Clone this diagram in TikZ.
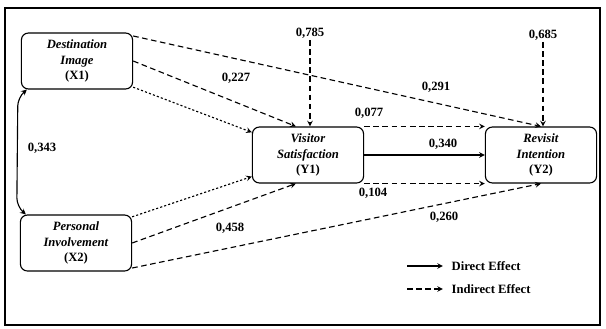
\documentclass[tikz,border=0pt]{standalone}
\usepackage{fontspec}
\setmainfont{Liberation Serif}
\usetikzlibrary{arrows, positioning, calc}

\begin{document}
\begin{tikzpicture}[
    x=0.025cm, y=-0.025cm,
    var/.style={rectangle, rounded corners=5pt, draw, thick, 
                minimum width=2.78cm, minimum height=1.4cm, align=center, font=\small\bfseries, inner sep=1pt},
    val/.style={font=\small\bfseries, inner sep=1pt},
    arrow/.style={->, thick, >=stealth},
    effect/.style={->, thick, >=stealth, dash pattern=on 4pt off 2.5pt},
    via/.style={->, thick, >=stealth, dash pattern=on 1.5pt off 1.5pt}
]
\useasboundingbox (0,0) rectangle (606,329);
\draw[line width=1pt] (5,8) rectangle (600,325);

% Variables
\node[var] (x1) at (77,61) {\textit{Destination}\\\textit{Image}\\(X1)};
\node[var] (x2) at (76,243) {\textit{Personal}\\\textit{Involvement}\\(X2)};
\node[var] (y1) at (308,155) {\textit{Visitor}\\\textit{Satisfaction}\\(Y1)};
\node[var] (y2) at (541,155) {\textit{Revisit}\\\textit{Intention}\\(Y2)};

% R square
\node[val] (r1) at (310,33) {0,785};
\node[val] (r2) at (543,35) {0,685};

% Path values
\node[val] (v343) at (42,148) {0,343};
\node[val] (v227) at (236,78) {0,227};
\node[val] (v291) at (436,87) {0,291};
\node[val] (v077) at (369,113) {0,077};
\node[val] (v340) at (443,144) {0,340};
\node[val] (v104) at (373,193) {0,104};
\node[val] (v458) at (230,228) {0,458};
\node[val] (v260) at (444,217) {0,260};

% Correlation
\draw[<->, thick, >=stealth, rounded corners=6pt] ($(x1.south west)+(6,0)$) -- ($(x1.south west)+(-3,8)$)
    -- ($(x2.north west)+(-3,-8)$) -- ($(x2.north west)+(6,0)$);

% Direct effects
\draw[effect] (r1.south) -- (r1.south |- y1.north);
\draw[effect] (r2.south) -- (r2.south |- y2.north);
\draw[effect] (x1.24) -- (y2.north);
\draw[effect] (x1.east) -- (y1.113);
\draw[effect] (x2.east) -- (y1.247);
\draw[effect] (x2.336) -- (y2.south);
\draw[arrow] (y1) -- (y2);

% Indirect effects
\draw[via] (x1.335) -- (y1.158);
\draw[via] (x2.25) -- (y1.201);
\draw[effect] (y1.north east) -- (y2.north west);
\draw[effect] (y1.south east) -- (y2.south west);

% Legend
\node[val, anchor=west] (direct) at (450,266) {Direct Effect};
\node[val, anchor=west] (indirect) at (450,289) {Indirect Effect};
\coordinate (d0) at (407,266);
\coordinate (i0) at (407,289);
\draw[arrow, shorten >=5pt] (d0) -- (direct);
\draw[effect, shorten >=5pt] (i0) -- (indirect);

\end{tikzpicture}
\end{document}
